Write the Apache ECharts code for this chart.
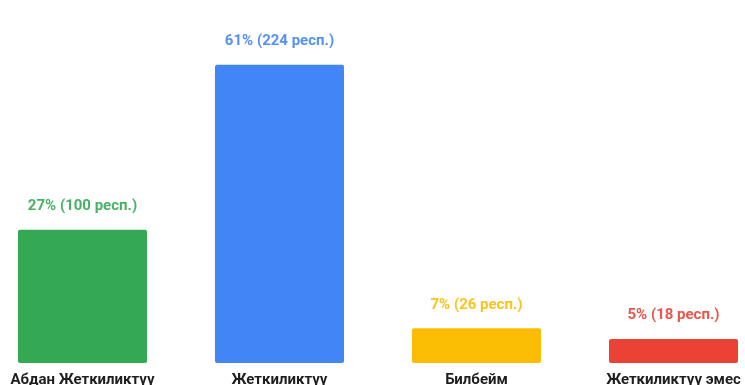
<!DOCTYPE html>
<html>
<head>
<meta charset="utf-8">
<script src="https://cdn.jsdelivr.net/npm/echarts@6/dist/echarts.min.js"></script>
<style>
  html, body { margin: 0; padding: 0; background: #ffffff; overflow: hidden; width: 745px; height: 385px; }
  #chart { width: 788px; height: 385px; margin-left: -16px; }
</style>
</head>
<body>
<div id="chart"></div>
<script>
// Survey answers: respondent counts and their shares
const categories = ['Абдан Жеткиликтүү', 'Жеткиликтүү', 'Билбейм', 'Жеткиликтүү эмес'];
const counts = [100, 224, 26, 18];
const percents = [27, 61, 7, 5];
const colors = ['#34a853', '#4285f4', '#fbbc04', '#ea4335'];

const chart = echarts.init(document.getElementById('chart'));

chart.setOption({
  animation: false,
  backgroundColor: '#ffffff',
  grid: { left: 0, right: 0, top: 30, bottom: 22, containLabel: false, outerBoundsMode: 'none' },
  xAxis: {
    type: 'category',
    data: categories,
    axisLine: { show: false },
    axisTick: { show: false },
    axisLabel: {
      interval: 0,
      margin: 10,
      color: '#1f1f1f',
      fontFamily: 'Roboto',
      fontWeight: 'bold',
      fontSize: 15
    }
  },
  yAxis: {
    type: 'value',
    min: 0,
    max: 250,
    show: false,
    splitLine: { show: false }
  },
  series: [{
    type: 'bar',
    barWidth: '65.5%',
    data: counts.map((v, i) => ({
      value: v,
      itemStyle: { color: colors[i], borderRadius: 2 },
      label: { color: colors[i], opacity: 0.9 }
    })),
    label: {
      show: true,
      position: 'top',
      distance: 16,
      fontFamily: 'Roboto',
      fontWeight: 'bold',
      fontSize: 15,
      formatter: p => percents[p.dataIndex] + '% (' + counts[p.dataIndex] + ' респ.)'
    }
  }]
});
</script>
</body>
</html>
